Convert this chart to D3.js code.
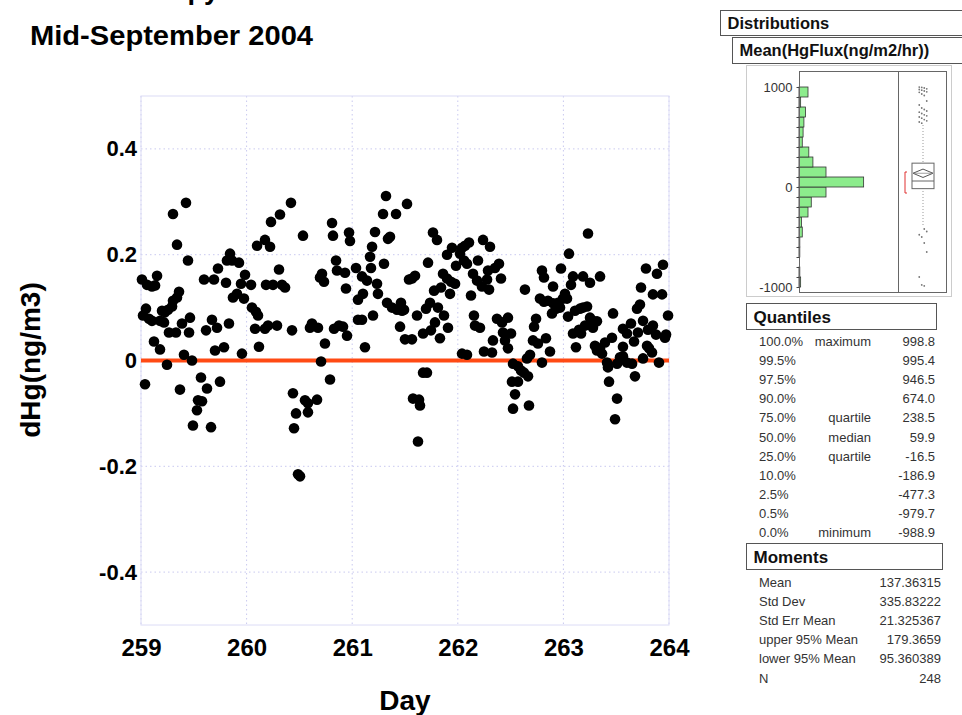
<!DOCTYPE html>
<html lang="en">
<head>
<meta charset="UTF-8">
<title>dHg Mid-September 2004</title>
<style>
  body { margin: 0; background: #fff; }
  text { font-family: "Liberation Sans", Arial, Helvetica, sans-serif; }
</style>
</head>
<body>
<svg id="chart" width="962" height="715"></svg>
<script src="https://d3js.org/d3.v7.min.js"></script>
<script>
// ---- data ----
const dayVals = [
  259.009,259.019,259.038,259.047,259.057,259.076,259.104,259.104,259.123,259.133,
  259.152,259.180,259.180,259.199,259.218,259.227,259.246,259.256,259.265,259.294,
  259.303,259.303,259.331,259.341,259.341,259.360,259.369,259.388,259.407,259.426,
  259.445,259.455,259.464,259.483,259.492,259.530,259.540,259.568,259.578,259.597,
  259.616,259.625,259.663,259.672,259.691,259.701,259.720,259.729,259.748,259.786,
  259.805,259.814,259.833,259.843,259.862,259.871,259.909,259.928,259.947,259.956,
  259.975,259.985,260.042,260.051,260.080,260.089,260.099,260.108,260.117,260.174,
  260.174,260.184,260.203,260.222,260.231,260.250,260.288,260.307,260.316,260.335,
  260.364,260.420,260.430,260.439,260.449,260.468,260.487,260.506,260.534,260.553,
  260.581,260.581,260.600,260.619,260.667,260.676,260.695,260.705,260.714,260.733,
  260.742,260.790,260.809,260.818,260.828,260.847,260.856,260.875,260.913,260.932,
  260.941,260.951,260.970,260.979,261.036,261.055,261.055,261.093,261.093,261.102,
  261.121,261.140,261.169,261.178,261.188,261.197,261.216,261.235,261.244,261.292,
  261.301,261.320,261.330,261.339,261.358,261.377,261.415,261.424,261.453,261.462,
  261.472,261.491,261.500,261.519,261.538,261.566,261.566,261.576,261.595,261.614,
  261.623,261.633,261.642,261.671,261.671,261.708,261.699,261.718,261.737,261.746,
  261.765,261.803,261.775,261.784,261.812,261.831,261.841,261.860,261.869,261.898,
  261.898,261.907,261.926,261.936,261.945,261.974,261.983,262.021,262.040,262.040,
  262.059,262.068,262.106,262.087,262.087,262.125,262.144,262.153,262.163,262.182,
  262.191,262.210,262.229,262.239,262.248,262.277,262.286,262.296,262.305,262.324,
  262.333,262.352,262.371,262.390,262.409,262.419,262.428,262.447,262.475,262.475,
  262.504,262.513,262.523,262.523,262.542,262.570,262.570,262.599,262.627,262.636,
  262.665,262.674,262.684,262.655,262.712,262.722,262.741,262.759,262.778,262.797,
  262.797,262.816,262.816,262.835,262.854,262.873,262.892,262.902,262.902,262.930,
  262.949,262.968,262.977,262.996,263.015,263.034,263.044,263.053,263.072,263.091,
  263.091,263.110,263.119,263.148,263.157,263.167,263.186,263.186,263.205,263.224,
  263.233,263.252,263.252,263.280,263.280,263.299,263.318,263.318,263.347,263.347,
  263.366,263.394,263.413,263.422,263.432,263.460,263.470,263.489,263.508,263.508,
  263.536,263.564,263.564,263.564,263.602,263.602,263.640,263.650,263.669,263.678,
  263.697,263.706,263.725,263.735,263.754,263.754,263.782,263.792,263.801,263.811,
  263.839,263.848,263.848,263.877,263.886,263.905,263.934,263.943,263.962,263.972,
  263.991
];
const dHgVals = [
  0.153,0.085,-0.045,0.098,0.143,0.079,0.140,0.075,0.036,0.142,
  0.160,0.075,0.021,0.094,0.072,0.091,-0.008,0.096,0.053,0.102,
  0.277,0.113,0.053,0.119,0.219,0.130,-0.055,0.070,0.011,0.298,
  0.189,0.053,0.081,0.000,-0.123,-0.094,-0.075,-0.032,-0.077,0.153,
  0.057,-0.053,-0.126,0.077,0.153,0.019,0.062,0.174,-0.040,0.025,
  0.147,0.189,0.070,0.202,0.189,0.119,0.126,0.185,0.145,0.013,
  0.117,0.162,0.143,0.100,0.060,0.092,0.217,0.085,0.026,0.060,
  0.228,0.143,0.066,0.215,0.262,0.143,0.066,0.172,0.276,0.143,
  0.138,0.298,0.057,-0.062,-0.128,-0.100,-0.215,-0.219,0.236,-0.075,
  -0.081,-0.098,0.062,0.070,-0.074,0.062,0.157,-0.002,0.164,0.149,
  0.032,-0.036,0.260,0.236,0.060,0.189,0.170,0.066,0.064,0.166,
  0.136,0.047,0.242,0.226,0.175,0.115,0.077,0.077,0.159,0.126,
  0.025,0.151,0.196,0.175,0.215,0.085,0.243,0.145,0.126,0.277,
  0.183,0.311,0.109,0.230,0.234,0.100,0.277,0.096,0.064,0.109,
  0.094,0.096,0.040,0.296,0.153,0.155,0.040,-0.072,0.160,0.085,
  -0.153,-0.074,-0.085,0.051,-0.023,-0.023,0.098,0.185,0.109,0.057,
  0.242,0.228,0.132,0.072,0.100,0.042,0.138,0.164,0.085,0.155,
  0.200,0.062,0.126,0.149,0.213,0.145,0.179,0.202,0.213,0.013,
  0.189,0.217,0.223,0.183,0.011,0.123,0.164,0.085,0.066,0.151,
  0.189,0.062,0.140,0.228,0.017,0.153,0.170,0.134,0.215,0.015,
  0.038,0.175,0.079,0.183,0.155,0.072,0.053,0.038,0.023,0.081,
  0.051,-0.040,-0.006,-0.091,-0.064,-0.011,-0.040,-0.019,-0.023,0.134,
  -0.030,-0.085,0.011,0.004,0.038,0.064,0.079,0.032,0.117,0.170,
  -0.004,0.157,0.111,0.042,0.113,0.017,0.089,0.140,0.108,0.098,
  0.109,0.100,0.174,0.117,0.126,0.117,0.083,0.202,0.143,0.051,
  0.159,0.094,0.025,0.058,0.098,0.051,0.159,0.100,0.066,0.102,
  0.240,0.147,0.081,0.062,0.075,0.028,0.074,0.019,0.159,0.023,
  0.013,0.034,-0.004,-0.013,-0.040,0.043,0.089,-0.111,-0.072,-0.006,
  0.006,0.060,0.026,0.008,0.051,-0.004,0.070,-0.006,0.036,-0.030,
  0.098,0.053,0.106,0.138,0.075,0.004,0.174,0.028,0.058,0.023,
  0.015,0.125,0.066,0.049,0.164,-0.004,0.125,0.181,0.043,0.049,
  0.085
];
const xTicks = [259, 260, 261, 262, 263, 264];
const yTicks = [-0.4, -0.2, 0, 0.2, 0.4];

// HgFlux distribution (bins of 100 starting at binLow)
const binLows   = [-1000,-900,-800,-700,-600,-500,-400,-300,-200,-100,0,100,200,300,400,500,600,700,800,900];
const binCounts = [2,1,0,1,1,4,3,11,15,33,79,33,17,12,4,5,6,8,2,11];
const fluxTicks = [1000, 0, -1000];
const upperOutliers = [998.8,995.4,990,982,975,968,960,952,946.5,930,915,860,820,790,775,760,748,735,722,712,700,688,674,662,650,638];
const lowerOutliers = [-420,-445,-477.3,-500,-560,-650,-900,-979.7,-988.9];

const qPct   = ["100.0%","99.5%","97.5%","90.0%","75.0%","50.0%","25.0%","10.0%","2.5%","0.5%","0.0%"];
const qName  = ["maximum","","","","quartile","median","quartile","","","","minimum"];
const qVal   = ["998.8","995.4","946.5","674.0","238.5","59.9","-16.5","-186.9","-477.3","-979.7","-988.9"];
const mName  = ["Mean","Std Dev","Std Err Mean","upper 95% Mean","lower 95% Mean","N"];
const mVal   = ["137.36315","335.83222","21.325367","179.3659","95.360389","248"];

const svg = d3.select("#chart");

// ---- main scatter ----
const x = d3.scaleLinear().domain([259, 264]).range([141, 669]);
const y = d3.scaleLinear().domain([-0.5, 0.5]).range([625, 96]);

// titles (first line is clipped by the top edge, as in the source)
svg.append("text").attr("x", 30).attr("y", -1)
  .attr("font-size", 27).attr("font-weight", "bold").text("Above Canopy");
svg.append("text").attr("x", 30).attr("y", 45)
  .attr("font-size", 27).attr("font-weight", "bold")
  .attr("textLength", 283).attr("lengthAdjust", "spacingAndGlyphs")
  .text("Mid-September 2004");

// grid
const grid = svg.append("g");
grid.selectAll("line.v").data(xTicks).join("line")
  .attr("x1", d => x(d)).attr("x2", d => x(d))
  .attr("y1", y(0.5)).attr("y2", y(-0.5))
  .attr("stroke", "#c9c9ef").attr("stroke-dasharray", "1.5,3");
grid.selectAll("line.h").data(yTicks).join("line")
  .attr("x1", x(259)).attr("x2", x(264))
  .attr("y1", d => y(d)).attr("y2", d => y(d))
  .attr("stroke", "#c9c9ef").attr("stroke-dasharray", "1.5,3");
svg.append("rect")
  .attr("x", x(259)).attr("y", y(0.5))
  .attr("width", x(264) - x(259)).attr("height", y(-0.5) - y(0.5))
  .attr("fill", "none").attr("stroke", "#dcdcf6");

// axes
const xAxis = svg.append("g").attr("transform", `translate(0,${y(-0.5)})`)
  .call(d3.axisBottom(x).tickValues(xTicks).tickSize(0).tickPadding(14).tickFormat(d3.format("d")));
const yAxis = svg.append("g").attr("transform", `translate(${x(259)},0)`)
  .call(d3.axisLeft(y).tickValues(yTicks).tickSize(0).tickPadding(4).tickFormat(d => String(d)));
xAxis.selectAll("text").attr("font-size", 24);
yAxis.selectAll("text").attr("font-size", 22);
[xAxis, yAxis].forEach(g => {
  g.select(".domain").remove();
  g.selectAll("text").attr("font-weight", "bold")
    .attr("fill", "#000").attr("font-family", "Liberation Sans, Arial, sans-serif");
});

svg.append("text").attr("x", 405).attr("y", 710).attr("text-anchor", "middle")
  .attr("font-size", 28).attr("font-weight", "bold").text("Day");
svg.append("text").attr("transform", "translate(40,360) rotate(-90)")
  .attr("text-anchor", "middle").attr("font-size", 28).attr("font-weight", "bold")
  .text("dHg(ng/m3)");

// zero line
svg.append("line")
  .attr("x1", x(259)).attr("x2", x(264)).attr("y1", y(0)).attr("y2", y(0))
  .attr("stroke", "#ff4a14").attr("stroke-width", 4);

// points
svg.append("g").selectAll("circle")
  .data(d3.zip(dayVals, dHgVals))
  .join("circle")
    .attr("cx", d => x(d[0]))
    .attr("cy", d => y(d[1]))
    .attr("r", 5.3)
    .attr("fill", "#000");

// ---- distribution panel ----
const panel = svg.append("g");

function headerBox(x0, y0, w, h, label, size) {
  panel.append("rect").attr("x", x0).attr("y", y0).attr("width", w).attr("height", h)
    .attr("fill", "#fff").attr("stroke", "#555").attr("stroke-width", 1);
  panel.append("text").attr("x", x0 + 7).attr("y", y0 + h / 2 + size * 0.36)
    .attr("font-size", size).attr("font-weight", "bold").attr("fill", "#111").text(label);
}
headerBox(720.5, 10.5, 250, 25, "Distributions", 16.5);
headerBox(732.5, 37.5, 230, 26, "Mean(HgFlux(ng/m2/hr))", 16.5);

// histogram frame
panel.append("rect").attr("x", 746.5).attr("y", 65.5).attr("width", 205).attr("height", 231)
  .attr("fill", "#fff").attr("stroke", "#ccc");

const fy = d3.scaleLinear().domain([-1050, 1160]).range([292, 71]);
const fx = d3.scaleLinear().domain([0, 121]).range([799, 898]);

panel.selectAll("rect.bin").data(binLows.map((b, i) => ({ lo: b, n: binCounts[i] })).filter(d => d.n > 0))
  .join("rect")
    .attr("x", fx(0))
    .attr("y", d => fy(d.lo + 100))
    .attr("width", d => fx(d.n) - fx(0))
    .attr("height", d => fy(d.lo) - fy(d.lo + 100))
    .attr("fill", "#8cec8c").attr("stroke", "#333").attr("stroke-width", 0.8);

panel.append("rect").attr("x", 799.5).attr("y", 71.5).attr("width", 99).attr("height", 221)
  .attr("fill", "none").attr("stroke", "#666");
panel.append("rect").attr("x", 898.5).attr("y", 71.5).attr("width", 48).attr("height", 221)
  .attr("fill", "none").attr("stroke", "#666");

const fAxis = panel.append("g").attr("transform", "translate(799.5,0)")
  .call(d3.axisLeft(fy).tickValues(d3.range(-1000, 1001, 100)).tickSize(3).tickPadding(4)
    .tickFormat(d => fluxTicks.includes(d) ? String(d) : ""));
fAxis.select(".domain").remove();
fAxis.selectAll("line").attr("stroke", "#444");
fAxis.selectAll("text").attr("font-size", 13).attr("fill", "#333")
  .attr("font-family", "Liberation Sans, Arial, sans-serif");

// box plot
const bx = 923;
const q1 = -16.5, q3 = 238.5, med = 59.9, mean = 137.36315, lo95 = 95.360389, hi95 = 179.3659;
panel.append("line").attr("x1", bx).attr("x2", bx).attr("y1", fy(620)).attr("y2", fy(-395))
  .attr("stroke", "#999").attr("stroke-dasharray", "1,2");
panel.append("rect").attr("x", bx - 11).attr("y", fy(q3)).attr("width", 22).attr("height", fy(q1) - fy(q3))
  .attr("fill", "#fff").attr("stroke", "#666");
panel.append("line").attr("x1", bx - 11).attr("x2", bx + 11).attr("y1", fy(med)).attr("y2", fy(med))
  .attr("stroke", "#666");
panel.append("path")
  .attr("d", `M${bx - 10},${fy(mean)} L${bx},${fy(hi95)} L${bx + 10},${fy(mean)} L${bx},${fy(lo95)} Z`)
  .attr("fill", "none").attr("stroke", "#555");
panel.append("line").attr("x1", bx - 10).attr("x2", bx + 10).attr("y1", fy(mean)).attr("y2", fy(mean))
  .attr("stroke", "#777").attr("stroke-width", 0.7);
// shortest half bracket
panel.append("path")
  .attr("d", `M${bx - 16},${fy(150)} L${bx - 18},${fy(150)} L${bx - 18},${fy(-60)} L${bx - 16},${fy(-60)}`)
  .attr("fill", "none").attr("stroke", "#e03030");
// outliers
panel.selectAll("circle.out").data(upperOutliers.concat(lowerOutliers)).join("circle")
  .attr("cx", (d, i) => bx + ((i % 4) - 1.5) * 2.5)
  .attr("cy", d => fy(d))
  .attr("r", 0.9).attr("fill", "#777");

// quantiles
headerBox(746.5, 303.5, 190, 26, "Quantiles", 17);
const qRows = panel.append("g");
qPct.forEach((p, i) => {
  const ry = 346 + i * 19.1;
  qRows.append("text").attr("x", 759).attr("y", ry).attr("font-size", 13).attr("fill", "#333").text(p);
  qRows.append("text").attr("x", 871).attr("y", ry).attr("font-size", 13).attr("fill", "#333")
    .attr("text-anchor", "end").text(qName[i]);
  qRows.append("text").attr("x", 935).attr("y", ry).attr("font-size", 13).attr("fill", "#333")
    .attr("text-anchor", "end").text(qVal[i]);
});

// moments
headerBox(746.5, 543.5, 196, 26, "Moments", 17);
mName.forEach((m, i) => {
  const ry = 587 + i * 19.1;
  panel.append("text").attr("x", 759).attr("y", ry).attr("font-size", 13).attr("fill", "#333").text(m);
  panel.append("text").attr("x", 941).attr("y", ry).attr("font-size", 13).attr("fill", "#333")
    .attr("text-anchor", "end").text(mVal[i]);
});
</script>
</body>
</html>
